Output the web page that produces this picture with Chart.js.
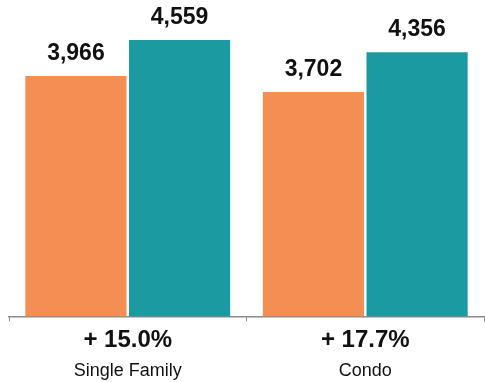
<!DOCTYPE html>
<html>
<head>
<meta charset="utf-8">
<script src="https://cdn.jsdelivr.net/npm/chart.js@4"></script>
<style>
  html, body { margin: 0; padding: 0; background: #fff; }
  #wrap { width: 485px; height: 382px; position: relative; }
</style>
</head>
<body>
<div id="wrap"><canvas id="salesChart"></canvas></div>
<script>
// chart data
const categories = ["Single Family", "Condo"];
const changeLabels = ["+ 15.0%", "+ 17.7%"];
const priorValues = [3966, 3702];
const currentValues = [4559, 4356];

const fontFamily = "'Liberation Sans', Arial, Helvetica, sans-serif";

// draws the value above each bar
const valueLabels = {
  id: "valueLabels",
  afterDatasetsDraw(chart) {
    const ctx = chart.ctx;
    ctx.save();
    ctx.font = "bold 23px " + fontFamily;
    ctx.fillStyle = "#111";
    ctx.textAlign = "center";
    ctx.textBaseline = "alphabetic";
    chart.data.datasets.forEach((ds, i) => {
      chart.getDatasetMeta(i).data.forEach((bar, j) => {
        ctx.fillText(ds.data[j].toLocaleString("en-US"), bar.x, bar.y - 16);
      });
    });
    ctx.restore();
  }
};

new Chart(document.getElementById("salesChart"), {
  type: "bar",
  data: {
    labels: changeLabels,
    datasets: [
      {
        label: "Prior",
        data: priorValues,
        backgroundColor: "#F58E52",
        categoryPercentage: 0.873,
        barPercentage: 0.976
      },
      {
        label: "Current",
        data: currentValues,
        backgroundColor: "#1B9AA2",
        categoryPercentage: 0.873,
        barPercentage: 0.976
      }
    ]
  },
  options: {
    responsive: true,
    maintainAspectRatio: false,
    animation: false,
    layout: { padding: { left: 9, right: 1, top: 0, bottom: 0 } },
    plugins: {
      legend: { display: false },
      tooltip: { enabled: false }
    },
    scales: {
      y: {
        display: false,
        min: 0,
        max: 5220
      },
      x: {
        position: "bottom",
        grid: {
          drawOnChartArea: false,
          drawTicks: true,
          tickLength: 5,
          color: "#8a8a8a"
        },
        border: { color: "#8a8a8a", width: 1.5 },
        ticks: {
          padding: 5,
          color: "#111",
          font: { family: fontFamily, size: 24, weight: "bold" }
        }
      },
      x2: {
        type: "category",
        position: "bottom",
        labels: categories,
        grid: { display: false, drawTicks: false },
        border: { display: false },
        ticks: {
          padding: 1,
          color: "#111",
          font: { family: fontFamily, size: 18, lineHeight: 1.1 }
        }
      }
    }
  },
  plugins: [valueLabels]
});
</script>
</body>
</html>
